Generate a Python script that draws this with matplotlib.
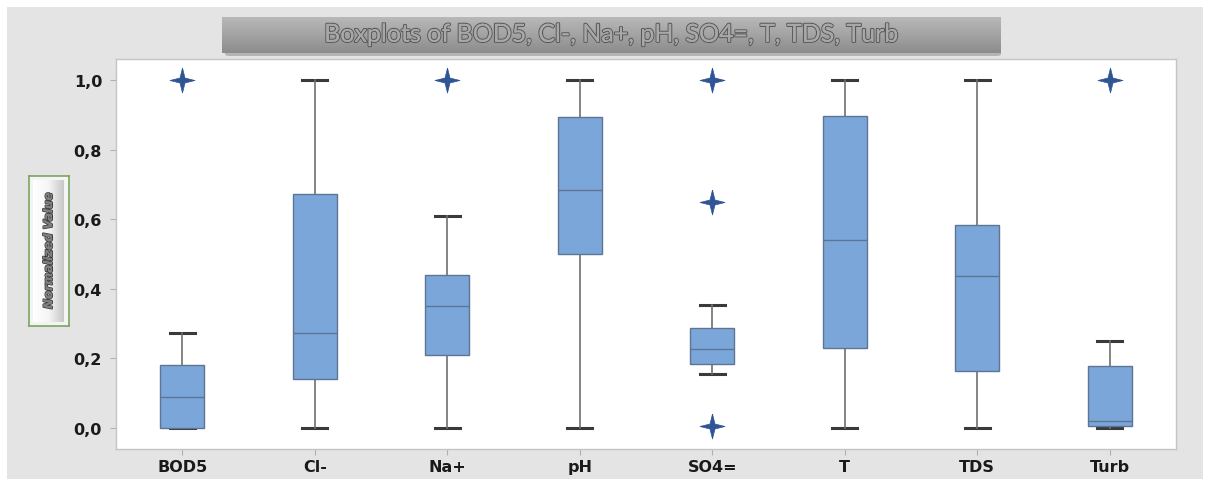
import numpy as np
import matplotlib
matplotlib.use('Agg')
import matplotlib.pyplot as plt
import matplotlib.patheffects as pe
from matplotlib.patches import Rectangle, FancyBboxPatch

# DATA -----------------------------------------------------------------------------------------------------------------
variables = ['BOD5', 'Cl-', 'Na+', 'pH', 'SO4=', 'T', 'TDS', 'Turb']
whisker_low = [0.0, 0.0, 0.0, 0.0, 0.156, 0.0, 0.0, 0.0]
q1 = [0.0, 0.141, 0.211, 0.499, 0.183, 0.229, 0.164, 0.007]
median = [0.090, 0.272, 0.351, 0.685, 0.228, 0.540, 0.437, 0.019]
q3 = [0.182, 0.673, 0.441, 0.893, 0.288, 0.895, 0.584, 0.178]
whisker_high = [0.274, 1.0, 0.608, 1.0, 0.353, 1.0, 1.0, 0.251]
outliers = [[1.0], [], [1.0], [], [1.0, 0.650, 0.006], [], [], [1.0]]
y_ticks = [0.0, 0.2, 0.4, 0.6, 0.8, 1.0]
y_tick_labels = ['0,0', '0,2', '0,4', '0,6', '0,8', '1,0']

# 4-point star marker
star = [(0, 1), (0.2, 0.2), (1, 0), (0.2, -0.2), (0, -1), (-0.2, -0.2), (-1, 0), (-0.2, 0.2), (0, 1)]

# FIGURE ---------------------------------------------------------------------------------------------------------------
fig = plt.figure(figsize=(12.05, 4.81), dpi=100, facecolor='white')
W, H = 1205, 481

def fx(px):
    return px / W

def fy(py):
    return 1 - py / H

# gray background panel
fig.patches.append(Rectangle((fx(7), fy(480)), fx(1196), 472 / H, transform=fig.transFigure,
                             facecolor='#e4e4e4', edgecolor='none', zorder=-10))

ax = fig.add_axes([fx(116), fy(450), fx(1176 - 116), (450 - 60) / H])
ax.set_facecolor('white')

stats = []
for i, name in enumerate(variables):
    stats.append({'label': name, 'whislo': whisker_low[i], 'q1': q1[i], 'med': median[i],
                  'q3': q3[i], 'whishi': whisker_high[i], 'fliers': outliers[i]})

ax.bxp(stats, positions=range(1, len(variables) + 1), widths=0.33, patch_artist=True, showfliers=True,
       boxprops=dict(facecolor='#7ba6d9', edgecolor='#5d7494', linewidth=1.0, zorder=3),
       medianprops=dict(color='#5d7494', linewidth=1.0, zorder=4),
       whiskerprops=dict(color='#707070', linewidth=1.2),
       capprops=dict(color='#3a3a3a', linewidth=2.2, zorder=1.5),
       capwidths=0.19,
       flierprops=dict(marker=star, markersize=18, markerfacecolor='#2f5596',
                       markeredgecolor='#2f5596', markeredgewidth=0.5, linestyle='none'))

ax.set_xlim(0.5, 8.5)
ax.set_ylim(-0.06, 1.06)
ax.set_yticks(y_ticks)
ax.set_yticklabels(y_tick_labels)
ax.set_xticks(range(1, len(variables) + 1))
ax.set_xticklabels(variables)
for lbl in ax.get_xticklabels() + ax.get_yticklabels():
    lbl.set_fontweight('bold')
    lbl.set_fontsize(11.5)
    lbl.set_color('#1a1a1a')
    lbl.set_family('DejaVu Sans')
ax.tick_params(axis='both', color='#b0b0b0', length=4, width=0.8)
ax.tick_params(axis='y', pad=6)
ax.tick_params(axis='x', pad=3)
for sp in ax.spines.values():
    sp.set_color('#c4c4c4')
    sp.set_linewidth(1.0)

# title box with gradient and a soft shadow
shadow = FancyBboxPatch((fx(225), fy(57)), fx(776), 36 / H, boxstyle='round,pad=0,rounding_size=0.004',
                        transform=fig.transFigure, facecolor='#a0a0a0', edgecolor='none', alpha=0.7, zorder=-5)
fig.patches.append(shadow)
tax = fig.add_axes([fx(222), fy(54), fx(778), 36 / H])
grad = np.linspace(0, 1, 64).reshape(-1, 1)
tax.imshow(grad, aspect='auto', cmap=matplotlib.colors.LinearSegmentedColormap.from_list(
    'g', ['#b8b8b8', '#a3a3a3', '#8c8c8c']), extent=[0, 1, 0, 1])
tax.set_axis_off()
tax.text(0.5, 0.52, 'Boxplots of BOD5, Cl-, Na+, pH, SO4=, T, TDS, Turb', ha='center', va='center',
         fontsize=18, family='Lato', fontweight='normal', color='#a8a8a8',
         path_effects=[pe.withStroke(linewidth=1.6, foreground='#5a5a5a'), pe.Normal()])

# y-label box: green frame with a white button inside
yax = fig.add_axes([fx(29), fy(327), fx(40), (327 - 177) / H])
yax.set_facecolor('#f4f4f4')
yax.set_xticks([])
yax.set_yticks([])
for sp in yax.spines.values():
    sp.set_color('#7aa660')
    sp.set_linewidth(1.2)
bax = fig.add_axes([fx(33), fy(323), fx(31), (323 - 181) / H])
ygrad = np.linspace(0, 1, 64).reshape(1, -1)
bax.imshow(ygrad, aspect='auto', cmap=matplotlib.colors.LinearSegmentedColormap.from_list(
    'y', ['#ffffff', '#f6f6f6', '#c8c8c8']), extent=[0, 1, 0, 1])
bax.set_axis_off()
bax.text(0.5, 0.5, 'Normalized Value', rotation=90, ha='center', va='center', fontsize=8.5,
         fontweight='bold', fontstyle='italic', family='DejaVu Sans', color='#808080',
         path_effects=[pe.withStroke(linewidth=1.3, foreground='#3a3a3a'), pe.Normal()])

fig.savefig('out.png', dpi=100)
